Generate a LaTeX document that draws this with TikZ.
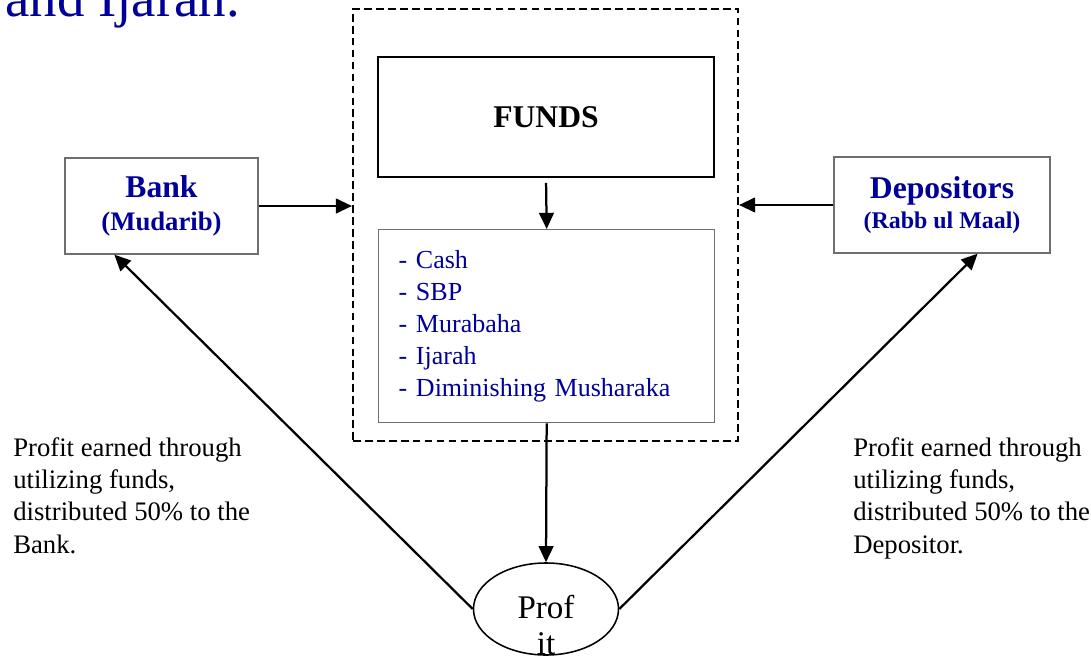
\documentclass[tikz,border=0pt]{standalone}
\usepackage{fontspec}
\setmainfont{Liberation Serif}
\usetikzlibrary{arrows.meta,positioning,shapes.geometric}
\definecolor{dkblue}{HTML}{000099}
\definecolor{boxgray}{HTML}{6E6E6E}

\begin{document}
\begin{tikzpicture}[x=.025cm,y=-.025cm,
  arr/.style={line width=1.6pt,-{Triangle[length=11.5pt,width=10.5pt]}},
  party/.style={draw=boxgray,line width=.9pt,minimum width=#1,minimum height=2.4cm,inner sep=0pt,align=center,text=dkblue},
  note/.style={anchor=base west,align=left,inner sep=0pt,font=\fontsize{19}{22.8}\selectfont}]
\useasboundingbox (0,0) rectangle (1091,657);
\node[anchor=base west,inner sep=0pt,text=dkblue,font=\fontsize{39}{46}\selectfont] (title) at (5,17) {and Ijarah.};
\node[draw,dash pattern=on 5.5pt off 3pt,line width=1.4pt,minimum width=9.625cm,minimum height=10.8cm,inner sep=0pt] (pool) at (545.5,225) {};
\node[draw,line width=1.4pt,minimum width=8.4cm,minimum height=3cm,inner sep=0pt,font=\bfseries\fontsize{22.5}{27}\selectfont] (funds) at (546,117) {FUNDS};
\node[draw=boxgray,line width=.9pt,anchor=north west,minimum width=8.4cm,minimum height=4.825cm,inner xsep=.5cm,inner ysep=0pt,text width=7.4cm,align=left,text=dkblue,font=\fontsize{18.5}{22.8}\selectfont] (assets) at (378,229) {- Cash\\- SBP\\- Murabaha\\- Ijarah\\- Diminishing Musharaka};
\node[party=4.825cm,font=\bfseries\fontsize{22.5}{23.5}\selectfont] (bank) at (161.5,206) {Bank\\{\fontsize{19}{23}\selectfont (Mudarib)}};
\node[party=5.4cm,font=\bfseries\fontsize{22.5}{21.5}\selectfont] (dep) at (942,205) {Depositors\\{\fontsize{17}{21}\selectfont (Rabb ul Maal)}};
\node[draw,ellipse,line width=1.1pt,minimum width=3.625cm,minimum height=2.3cm,inner sep=0pt,font=\fontsize{23.5}{26.3}\selectfont] (profit) at (546,609) {\raisebox{-32.7pt}[0pt][0pt]{\begin{tabular}[b]{@{}c@{}}Prof\\it\end{tabular}}};
\node[note] (banknote) at (13,553) {Profit earned through\\utilizing funds,\\distributed 50\% to the\\Bank.};
\node[note] (depnote) at (853,553) {Profit earned through\\utilizing funds,\\distributed 50\% to the\\Depositor.};
\draw[arr] (bank.east) -- (bank.east -| pool.west);
\draw[arr] (dep.west) -- (dep.west -| pool.east);
\draw[arr,shorten <=3.5pt] (funds.south) -- (assets.north);
\draw[arr] (assets.south) -- (profit.north);
\draw[arr] (profit.west) -- ([xshift=1.25cm]bank.south west);
\draw[arr] (profit.east) -- ([xshift=-1.825cm]dep.south east);
\end{tikzpicture}
\end{document}
